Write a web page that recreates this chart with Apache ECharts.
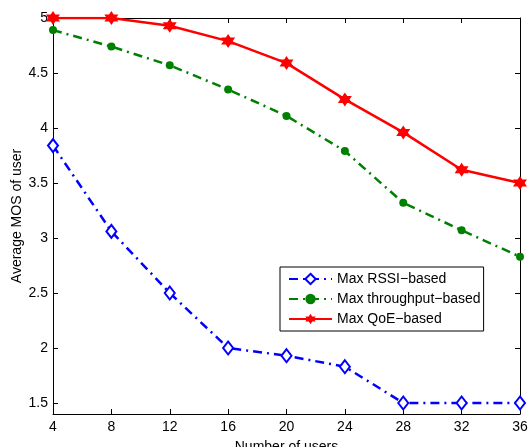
<!DOCTYPE html>
<html><head><meta charset="utf-8">
<script src="https://cdn.jsdelivr.net/npm/echarts@6/dist/echarts.min.js"></script>
<style>html,body{margin:0;padding:0;background:#fff}#c{width:529px;height:447px}</style>
</head><body><div id="c"></div>
<script>
const users = [4, 8, 12, 16, 20, 24, 28, 32, 36];
const rssi = [3.84, 3.06, 2.50, 2.00, 1.93, 1.83, 1.50, 1.50, 1.50];
const throughput = [4.89, 4.74, 4.57, 4.35, 4.11, 3.79, 3.32, 3.07, 2.83];
const qoe = [5.00, 5.00, 4.93, 4.79, 4.59, 4.26, 3.96, 3.62, 3.50];
const yTicks = [1.5, 2, 2.5, 3, 3.5, 4, 4.5, 5];
const seriesNames = ['Max RSSI\u2212based', 'Max throughput\u2212based', 'Max QoE\u2212based'];

const font = 'Liberation Sans, Arial, Helvetica, sans-serif';
const hexagram = 'path://M100,0 L128.87,50 L186.6,50 L157.7,100 L186.6,150 L128.87,150 L100,200 L71.13,150 L13.4,150 L42.3,100 L13.4,50 L71.13,50 Z';
const pair = (xs, ys) => xs.map((x, i) => [x, ys[i]]);

const chart = echarts.init(document.getElementById('c'), null, {renderer: 'canvas'});
const axisLine = {show: true, onZero: false, lineStyle: {color: '#000', width: 1}};
const tickIn = {show: true, inside: true, length: 5, lineStyle: {color: '#000', width: 1}};
chart.setOption({
  animation: false,
  backgroundColor: '#fff',
  grid: {left: 53, right: 9, top: 18, bottom: 33, containLabel: false, outerBoundsMode: 'none'},
  legend: {
    left: 280, top: 267, orient: 'vertical',
    backgroundColor: '#fff', borderColor: '#000', borderWidth: 1,
    padding: [5, 3, 5, 8], itemGap: 6, itemWidth: 43, itemHeight: 13,
    textStyle: {fontFamily: font, fontSize: 14, color: '#000'},
    data: seriesNames
  },
  xAxis: [{
    type: 'value', min: 4, max: 36, interval: 4, position: 'bottom',
    name: 'Number of users', nameLocation: 'middle', nameGap: 26, nameMoveOverlap: false,
    nameTextStyle: {fontFamily: font, fontSize: 14, color: '#000'},
    axisLine: axisLine, axisTick: tickIn,
    axisLabel: {fontFamily: font, fontSize: 14, color: '#000', margin: 6},
    splitLine: {show: false}
  }, {
    type: 'value', min: 4, max: 36, interval: 4, position: 'top',
    axisLine: axisLine, axisTick: tickIn, axisLabel: {show: false}, splitLine: {show: false}
  }],
  yAxis: [{
    type: 'value', min: 1.4, max: 5, position: 'left',
    name: 'Average MOS of user', nameLocation: 'middle', nameGap: 29, nameMoveOverlap: false,
    nameTextStyle: {fontFamily: font, fontSize: 14, color: '#000'},
    axisLine: axisLine,
    axisTick: Object.assign({}, tickIn, {customValues: yTicks}),
    axisLabel: {fontFamily: font, fontSize: 14, color: '#000', margin: 5, customValues: yTicks,
      formatter: v => String(+v.toFixed(2))},
    splitLine: {show: false}
  }, {
    type: 'value', min: 1.4, max: 5, position: 'right',
    axisLine: axisLine,
    axisTick: Object.assign({}, tickIn, {customValues: yTicks}),
    axisLabel: {show: false, customValues: yTicks}, splitLine: {show: false}
  }],
  series: [{
    name: seriesNames[0], type: 'line', data: pair(users, rssi),
    symbol: 'diamond', symbolSize: [10, 13], showAllSymbol: true,
    itemStyle: {color: '#fff', borderColor: '#0000ff', borderWidth: 2},
    lineStyle: {color: '#0000ff', width: 2.5, type: [9, 5, 2, 5]},
    color: '#0000ff', z: 3
  }, {
    name: seriesNames[1], type: 'line', data: pair(users, throughput),
    symbol: 'circle', symbolSize: 8, showAllSymbol: true,
    itemStyle: {color: '#008000', borderWidth: 0},
    lineStyle: {color: '#008000', width: 2.5, type: [9, 5, 2, 5]},
    color: '#008000', z: 4
  }, {
    name: seriesNames[2], type: 'line', data: pair(users, qoe),
    symbol: hexagram, symbolSize: 14, showAllSymbol: true,
    itemStyle: {color: '#ff0000', borderWidth: 0},
    lineStyle: {color: '#ff0000', width: 2.5, type: 'solid'},
    color: '#ff0000', z: 5
  }]
});
</script></body></html>
